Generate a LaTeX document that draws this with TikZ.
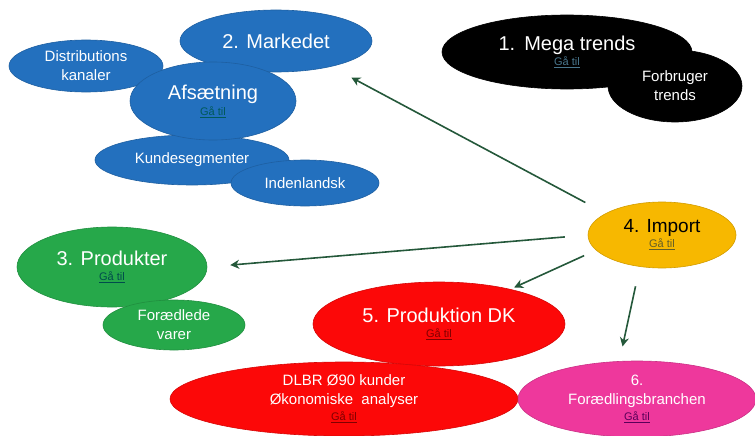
\documentclass[tikz,border=0pt]{standalone}
\usepackage{fontspec}
\setmainfont{Liberation Sans}
\usetikzlibrary{shapes,% ellipse nodes
arrows.meta}
\definecolor{mkblue}{RGB}{35,112,190}
\definecolor{impgold}{RGB}{247,184,0}
\definecolor{prgreen}{RGB}{38,168,74}
\definecolor{dkred}{RGB}{252,8,8}
\definecolor{fopink}{RGB}{238,56,156}
\definecolor{arrgreen}{RGB}{36,88,58}
\tikzset{every node/.style={font=\fontsize{15}{19}\selectfont, text=white, align=center}}
\tikzset{bubble/.style={ellipse, inner sep=0pt, fill=#1, draw=#1!85!black, line width=0.6pt},
  arr/.style={-{Stealth[length=9pt,width=9pt]}, line width=1.6pt, draw=arrgreen, fill=arrgreen}}
\newcommand{\bigtxt}{\fontsize{20}{23}\selectfont}
\newcommand{\gatil}[1]{{\fontsize{11}{12}\selectfont\color{#1}\underline{Gå til}}}

\begin{document}
\begin{tikzpicture}[x=1pt,y=-1pt]
    \useasboundingbox (0,0) rectangle (755,436);
    \clip (0,0) rectangle (755,436);
    % 2. Markedet
    \node[bubble=mkblue, minimum width=192pt, minimum height=62pt] (marked) at (276,41) {\bigtxt 2. Markedet};
    \node[bubble=mkblue, minimum width=154pt, minimum height=52pt] (distri) at (86,66) {Distributions\\kanaler};
    \node[bubble=mkblue, minimum width=194pt, minimum height=50pt] (kunde) at (192,160) {Kundesegmenter};
    \node[bubble=mkblue, minimum width=166pt, minimum height=78pt] (afs) at (213,101) {{\bigtxt Afsætning}\\[-3pt] \gatil{teal!70!black}};
    \node[bubble=mkblue, minimum width=148pt, minimum height=46pt] (inden) at (305,183) {Indenlandsk};
    % 1. Mega trends
    \node[bubble=black, minimum width=250pt, minimum height=74pt] (mega) at (567,52) {{\bigtxt 1.\hspace{9pt}Mega trends}\\[-4pt] \gatil{cyan!50!black}};
    \node[bubble=black, minimum width=134pt, minimum height=72pt] (forbr) at (675,86) {Forbruger\\trends};
    % 4. Import
    \node[bubble=impgold, minimum width=148pt, minimum height=66pt, text=black] (import) at (662,235) {{\fontsize{19}{22}\selectfont 4. Import}\\[-4pt] \gatil{olive!60!black}};
    % 3. Produkter
    \node[bubble=prgreen, minimum width=190pt, minimum height=80pt] (produkt) at (112,267) {{\bigtxt 3. Produkter}\\[-4pt] \gatil{teal!60!black}};
    \node[bubble=prgreen, minimum width=142pt, minimum height=50pt] (foraedl) at (174,325) {Forædlede\\varer};
    % 5. Produktion DK
    \node[bubble=dkred, minimum width=252pt, minimum height=84pt] (prod) at (439,324) {{\bigtxt 5. Produktion DK}\\[-4pt] \gatil{red!50!black}};
    \node[bubble=dkred, minimum width=348pt, minimum height=74pt] (dlbr) at (344,399) {DLBR Ø90 kunder\\Økonomiske\ \ analyser\\[-3pt] \gatil{red!50!black}};
    % 6. Foraedlingsbranchen
    \node[bubble=fopink, minimum width=238pt, minimum height=76pt] (fored) at (637,399) {6.\\Forædlingsbranchen\\[-3pt] \gatil{violet!70!black}};
    % pile fra import
    \draw[arr, shorten <=23pt, shorten >=23pt] (import.159) -- (marked.-25);
    \draw[arr, shorten <=23pt, shorten >=23pt] (import.west) -- (produkt.east);
    \draw[arr, shorten <=13pt, shorten >=4pt] (import.193) -- (prod.26);
    \draw[arr, shorten <=20pt, shorten >=15pt] (import.235) -- (fored.115);
\end{tikzpicture}
\end{document}
